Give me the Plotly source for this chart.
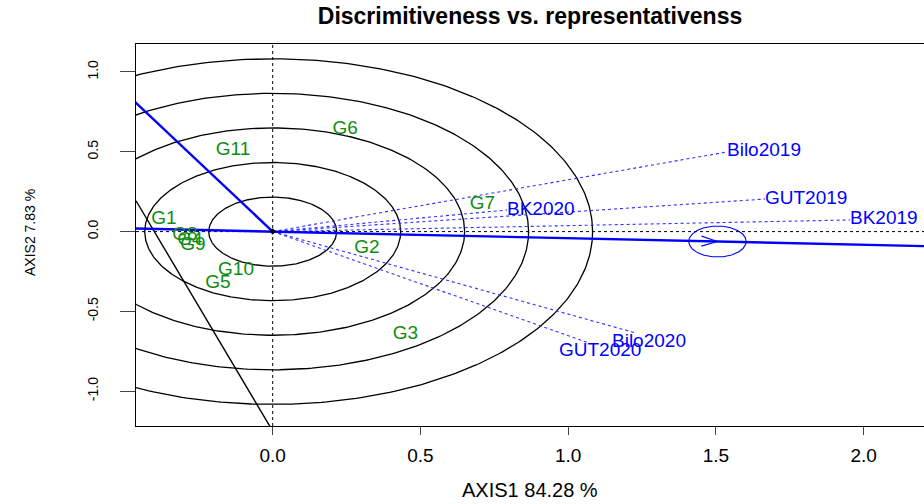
import numpy as np
import plotly.graph_objects as go

# ---- GGE biplot scores -------------------------------------------------
gen_names = ["G1", "G2", "G3", "G4", "G5", "G6", "G7", "G8", "G9", "G10", "G11"]
gen_pc1 = [-0.368, 0.319, 0.449, -0.280, -0.185, 0.245, 0.710, -0.297, -0.270, -0.124, -0.134]
gen_pc2 = [0.079, -0.103, -0.645, -0.053, -0.322, 0.640, 0.173, -0.021, -0.084, -0.244, 0.511]

env_names = ["Bilo2019", "GUT2019", "BK2019", "BK2020", "Bilo2020", "GUT2020"]
env_pc1 = [1.537, 1.666, 1.954, 0.793, 1.232, 1.068]
env_pc2 = [0.499, 0.204, 0.073, 0.135, -0.637, -0.696]

# average-environment axis point and its marker circle
aea_pc1 = 1.505
aea_pc2 = -0.062
aea_circle_r = 0.097

# concentric discrimination circles
circle_radii = [0.2165, 0.433, 0.6495, 0.866, 1.0825]

# auxiliary lines: ray from origin (slope) and offset line (intercept, slope)
ray_slope = -1.743
aux_intercept = -1.25
aux_slope = -3.12

x_ticks = [0.0, 0.5, 1.0, 1.5, 2.0]
y_ticks = [-1.0, -0.5, 0.0, 0.5, 1.0]
x_range = [-0.4626, 2.204]
y_range = [-1.218, 1.1754]

# ---- layout geometry ---------------------------------------------------
W, H = 924, 504
ML, MR, MT, MB = 136, 0, 44, 78
PW, PH = W - ML - MR, H - MT - MB
px_x = PW / (x_range[1] - x_range[0])   # pixels per x unit
px_y = PH / (y_range[1] - y_range[0])   # pixels per y unit

FONT = "Liberation Sans, Arial, Helvetica, sans-serif"
BLUE = "#0000ff"
GREEN = "#0f8c0f"

fig = go.Figure()

# concentric circles
t = np.linspace(0, 2 * np.pi, 400)
cx, cy = [], []
for r in circle_radii:
    cx += list(r * np.cos(t)) + [None]
    cy += list(r * np.sin(t)) + [None]
fig.add_trace(go.Scatter(x=cx, y=cy, mode="lines",
                         line=dict(color="black", width=1.3), hoverinfo="skip"))

# dotted reference axes through the origin
fig.add_trace(go.Scatter(x=[0, 0, None, x_range[0], x_range[1]],
                         y=[y_range[0], y_range[1], None, 0, 0],
                         mode="lines", line=dict(color="black", width=1, dash="dot"),
                         hoverinfo="skip"))

# environment vectors
vx, vy = [], []
for ex, ey in zip(env_pc1, env_pc2):
    vx += [0, ex, None]
    vy += [0, ey, None]
fig.add_trace(go.Scatter(x=vx, y=vy, mode="lines",
                         line=dict(color="#2f2fff", width=1.1, dash="3px,3px"),
                         hoverinfo="skip"))

# offset auxiliary line (black)
ax_x = np.array([x_range[0], (y_range[0] - 0.05 - aux_intercept) / aux_slope])
fig.add_trace(go.Scatter(x=ax_x, y=aux_intercept + aux_slope * ax_x, mode="lines",
                         line=dict(color="black", width=1.4), hoverinfo="skip"))

# average environment axis (through origin and AEA point)
slope = aea_pc2 / aea_pc1
ex_line = np.array([x_range[0] - 0.1, x_range[1] + 0.1])
fig.add_trace(go.Scatter(x=ex_line, y=slope * ex_line, mode="lines",
                         line=dict(color=BLUE, width=2.4), hoverinfo="skip"))

# ray from origin towards the upper left
rx = np.array([0.0, x_range[0] - 0.2])
fig.add_trace(go.Scatter(x=rx, y=ray_slope * rx, mode="lines",
                         line=dict(color=BLUE, width=2.4), hoverinfo="skip"))

# circle marking the AEA point
fig.add_trace(go.Scatter(x=aea_pc1 + aea_circle_r * np.cos(t),
                         y=aea_pc2 + aea_circle_r * np.sin(t), mode="lines",
                         line=dict(color=BLUE, width=1.1), hoverinfo="skip"))

# open arrow head at the AEA point, built in pixel space
dxp, dyp = aea_pc1 * px_x, aea_pc2 * px_y
norm = np.hypot(dxp, dyp)
ux, uy = dxp / norm, dyp / norm
back, half = 16, 5
heads_x, heads_y = [], []
for sgn in (1, -1):
    bx = -back * ux - sgn * half * (-uy)
    by = -back * uy - sgn * half * ux
    heads_x += [aea_pc1 + bx / px_x]
    heads_y += [aea_pc2 + by / px_y]
fig.add_trace(go.Scatter(x=[heads_x[0], aea_pc1, heads_x[1]],
                         y=[heads_y[0], aea_pc2, heads_y[1]], mode="lines",
                         line=dict(color=BLUE, width=1.1), hoverinfo="skip"))

# origin point
fig.add_trace(go.Scatter(x=[0], y=[0], mode="markers",
                         marker=dict(color="black", size=5, symbol="diamond"),
                         hoverinfo="skip"))

# genotype labels
fig.add_trace(go.Scatter(x=gen_pc1, y=gen_pc2, mode="text", text=gen_names,
                         textposition="middle center",
                         textfont=dict(family=FONT, size=19, color=GREEN),
                         hoverinfo="skip", cliponaxis=False))

# environment labels
for name, ex, ey in zip(env_names, env_pc1, env_pc2):
    if ey >= 0:
        fig.add_annotation(x=ex, y=ey, text=name, showarrow=False,
                           xanchor="left", yanchor="middle", yshift=2, xshift=-2,
                           font=dict(family=FONT, size=19, color=BLUE))
    else:
        fig.add_annotation(x=ex, y=ey, text=name, showarrow=False,
                           xanchor="center", yanchor="middle", yshift=-7, xshift=12,
                           font=dict(family=FONT, size=19, color=BLUE))

# axis titles
fig.add_annotation(xref="paper", yref="paper", x=0.5, y=-(490 - (H - MB)) / PH,
                   text="AXIS1 84.28 %", showarrow=False, yanchor="middle",
                   font=dict(family=FONT, size=20, color="black"))
fig.add_annotation(xref="paper", yref="paper", x=(30 - ML) / PW, y=(H - MB - 233) / PH,
                   text="AXIS2 7.83 %", showarrow=False, textangle=-90,
                   xanchor="center", yanchor="middle",
                   font=dict(family=FONT, size=14, color="black"))

fig.update_layout(
    width=W, height=H,
    margin=dict(l=ML, r=MR, t=MT, b=MB, pad=0),
    paper_bgcolor="white", plot_bgcolor="white",
    showlegend=False,
    title=dict(text="Discrimitiveness vs. representativenss",
               x=0.5, xref="paper", xanchor="center",
               y=1 - 16 / H, yref="container", yanchor="middle",
               font=dict(family=FONT, size=23, color="black", weight="bold")),
    xaxis=dict(range=x_range, tickvals=x_ticks,
               ticktext=[f"{v:.1f}" for v in x_ticks],
               showgrid=False, zeroline=False,
               showline=True, linecolor="black", linewidth=1.3, mirror=True,
               ticks="outside", ticklen=8, tickwidth=1, tickcolor="#444",
               ticklabelstandoff=4,
               tickfont=dict(family=FONT, size=19, color="black")),
    yaxis=dict(range=y_range, tickvals=y_ticks,
               ticktext=[f"{v:.1f}" for v in y_ticks],
               showgrid=False, zeroline=False,
               showline=True, linecolor="black", linewidth=1.3,
               ticks="outside", ticklen=15, tickwidth=1, tickcolor="#444",
               tickangle=-90, ticklabelstandoff=16,
               tickfont=dict(family=FONT, size=14, color="black")),
)

fig.write_html("out.html")
